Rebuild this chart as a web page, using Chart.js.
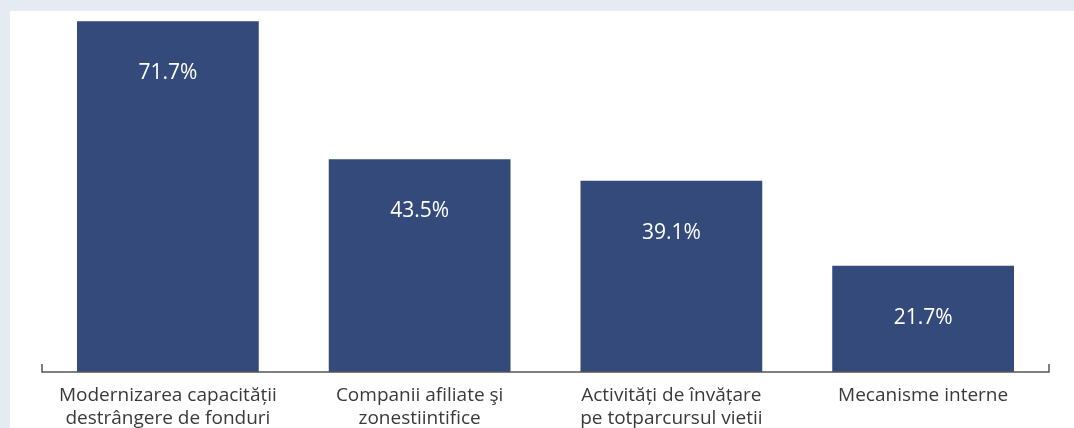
<!DOCTYPE html>
<html>
<head>
<meta charset="utf-8">
<script src="https://cdn.jsdelivr.net/npm/chart.js@4"></script>
<style>
  html, body { margin: 0; padding: 0; background: #e4ebf3; overflow: hidden; }
  #wrap { width: 1074px; height: 428px; position: relative; }
</style>
</head>
<body>
<div id="wrap"><canvas id="shareChart" width="1074" height="428"></canvas></div>
<script>
// values
var categories = [
    ['Modernizarea capacității', 'destrângere de fonduri'],
    ['Companii afiliate şi', 'zonestiintifice'],
    ['Activități de învățare', 'pe totparcursul vietii'],
    ['Mecanisme interne']
];
var shares = [71.7, 43.5, 39.1, 21.7];

var fontFamily = '"Open Sans", "Noto Sans", sans-serif';

// white panel on the light blue-grey frame
var panelPlugin = {
    id: 'panel',
    beforeDraw: function(chart) {
        var ctx = chart.ctx;
        ctx.save();
        ctx.fillStyle = '#e4ebf3';
        ctx.fillRect(0, 0, chart.width, chart.height);
        ctx.fillStyle = '#ffffff';
        ctx.fillRect(10, 11, chart.width - 10, chart.height - 11);
        ctx.restore();
    },
    afterDatasetsDraw: function(chart) {
        var ctx = chart.ctx;
        var area = chart.chartArea;
        // axis baseline with end ticks
        ctx.save();
        ctx.strokeStyle = '#555555';
        ctx.lineWidth = 1.5;
        ctx.beginPath();
        ctx.moveTo(area.left, area.bottom - 8);
        ctx.lineTo(area.left, area.bottom);
        ctx.lineTo(area.right, area.bottom);
        ctx.lineTo(area.right, area.bottom - 8);
        ctx.stroke();

        // value labels inside the bars
        var meta = chart.getDatasetMeta(0);
        ctx.fillStyle = '#ffffff';
        ctx.font = '21px ' + fontFamily;
        ctx.textAlign = 'center';
        ctx.textBaseline = 'middle';
        meta.data.forEach(function(bar, i) {
            ctx.fillText(shares[i].toFixed(1) + '%', bar.x, bar.y + 52);
        });
        ctx.restore();
    }
};

var ctxShare = document.getElementById('shareChart').getContext('2d');
var shareChart = new Chart(ctxShare, {
    type: 'bar',
    data: {
        labels: categories,
        datasets: [{
            data: shares,
            backgroundColor: '#334a7b',
            borderWidth: 0,
            categoryPercentage: 1,
            barPercentage: 0.722
        }]
    },
    options: {
        responsive: false,
        animation: false,
        layout: { padding: { left: 42, right: 25, top: 5, bottom: 0 } },
        plugins: {
            legend: { display: false },
            tooltip: { enabled: false }
        },
        scales: {
            x: {
                grid: { display: false },
                border: { display: false },
                ticks: {
                    color: '#3a3a3a',
                    padding: 4,
                    maxRotation: 0,
                    autoSkip: false,
                    font: { family: fontFamily, size: 19, lineHeight: '23px' }
                },
                afterFit: function(scale) { scale.height = 56; }
            },
            y: {
                display: false,
                min: 0,
                max: 75
            }
        }
    },
    plugins: [panelPlugin]
});
</script>
</body>
</html>
